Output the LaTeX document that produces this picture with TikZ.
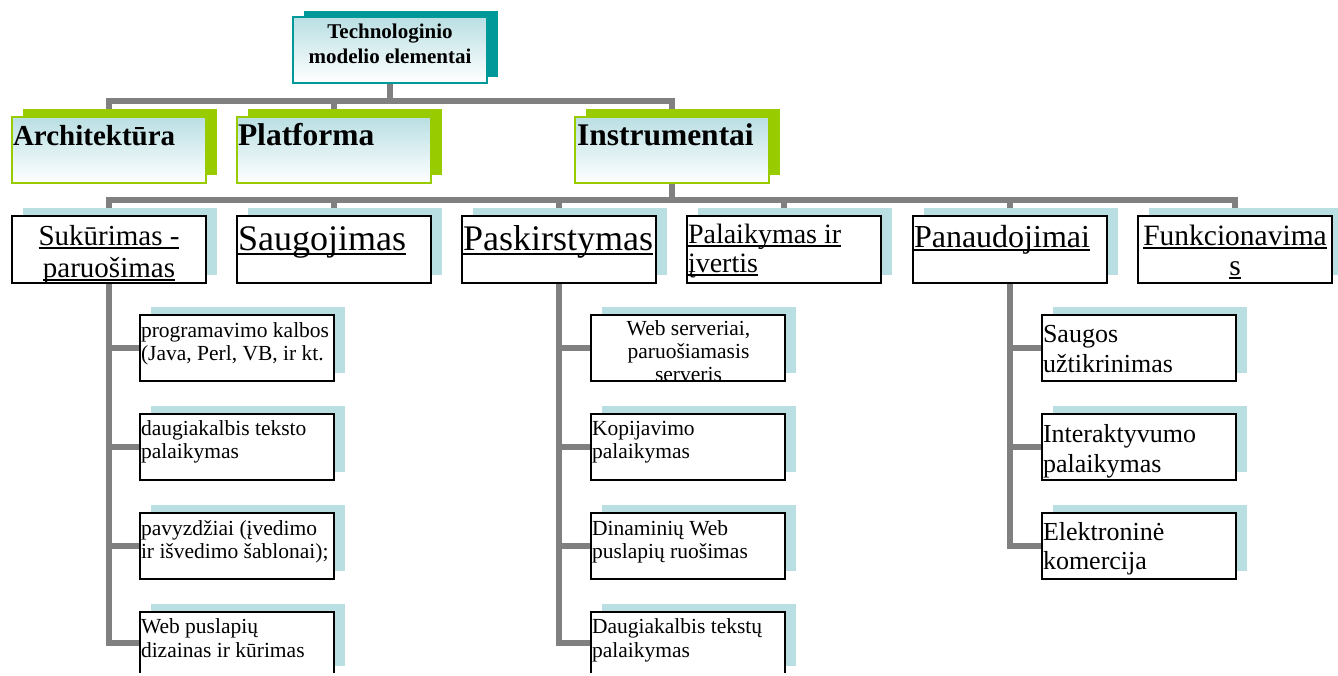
\documentclass[tikz,border=0pt]{standalone}
\usepackage{fontspec}
\setmainfont{Liberation Serif}
\usetikzlibrary{shadows}
\pgfdeclarelayer{background}
\pgfsetlayers{background,main}
\definecolor{lteal}{RGB}{185,223,227}
\definecolor{dteal}{RGB}{0,153,153}
\definecolor{lgreen}{RGB}{153,204,0}
\definecolor{conngray}{RGB}{128,128,128}
\newcommand{\ulx}[1]{\setbox0=\hbox{#1}\rlap{\rule[-0.13em]{\wd0}{0.06em}}\box0}
\newcommand{\fs}[2]{\fontsize{#1}{#2}\selectfont}
\tikzset{
  frontbox/.style={minimum width=194pt, minimum height=66pt, inner sep=0pt, outer sep=0pt, anchor=north west},
  topbox/.style={frontbox, draw=dteal, line width=1.5pt, top color=lteal, bottom color=white,
    general shadow={fill=dteal, shadow xshift=11pt, shadow yshift=6pt}},
  catbox/.style={frontbox, draw=lgreen, line width=1.5pt, top color=lteal, bottom color=white,
    general shadow={fill=lgreen, shadow xshift=11pt, shadow yshift=8pt}},
  subbox/.style={frontbox, draw=black, line width=1.6pt, fill=white, minimum height=67pt,
    general shadow={fill=lteal, shadow xshift=11pt, shadow yshift=8pt}},
  leafbox/.style={subbox, minimum height=66pt},
  conn/.style={draw=conngray, line width=5.5pt},
  txt/.style={inner sep=0pt, outer sep=0pt, anchor=base west},
  ctxt/.style={inner sep=0pt, outer sep=0pt, anchor=base},
  leaf/.style={txt, font=\fs{21.5}{23}},
  rleaf/.style={txt, font=\fs{26}{30}},
}
\begin{document}
\begin{tikzpicture}[x=1pt, y=-1pt]
\clip (0,0) rectangle (1338,675);

% root
\node[topbox] (root) at (293,17) {};
\node[ctxt, font=\bfseries\fs{21}{25}] (rootT1) at (390,38) {Technologinio};
\node[ctxt, font=\bfseries\fs{21}{25}] (rootT2) at (390,63) {modelio elementai};

% level 1
\node[catbox] (arch) at (12,117) {};
\node[catbox] (plat) at (237,117) {};
\node[catbox] (inst) at (575,117) {};
\node[txt, font=\bfseries\fs{29}{34}] (archT) at (13,145) {Architektūra};
\node[txt, font=\bfseries\fs{31.5}{36}] (platT) at (238,145) {Platforma};
\node[txt, font=\bfseries\fs{31.5}{36}] (instT) at (577,145) {Instrumentai};

% level 2
\node[subbox] (s1) at (12,216) {};
\node[subbox] (s2) at (237,216) {};
\node[subbox] (s3) at (462,216) {};
\node[subbox] (s4) at (687,216) {};
\node[subbox] (s5) at (913,216) {};
\node[subbox] (s6) at (1138,216) {};
\node[ctxt, font=\fs{29}{32}] (s1T1) at (109,245) {\ulx{Sukūrimas -}};
\node[ctxt, font=\fs{29}{32}] (s1T2) at (109,277) {\ulx{paruošimas}};
\node[txt, font=\fs{36}{40}] (s2T) at (238,250) {\ulx{Saugojimas}};
\node[txt, font=\fs{36}{40}] (s3T) at (463,250) {\ulx{Paskirstymas}};
\node[txt, font=\fs{28}{29}] (s4T1) at (688,243) {\ulx{Palaikymas ir}};
\node[txt, font=\fs{28}{29}] (s4T2) at (688,272) {\ulx{įvertis}};
\node[txt, font=\fs{32}{36}] (s5T) at (914,247) {\ulx{Panaudojimai}};
\node[ctxt, font=\fs{29.5}{30}] (s6T1) at (1235,245) {\ulx{Funkcionavima}};
\node[ctxt, font=\fs{29.5}{30}] (s6T2) at (1235,275) {\ulx{s}};

% level 3 - left
\node[leafbox] (a1) at (140,315) {};
\node[leafbox] (a2) at (140,414) {};
\node[leafbox] (a3) at (140,513) {};
\node[leafbox, minimum height=62pt] (a4) at (140,612) {};
\node[leaf] (a1T1) at (141,337) {programavimo kalbos};
\node[leaf] (a1T2) at (141,360) {(Java, Perl, VB, ir kt.};
\node[leaf] (a2T1) at (141,435) {daugiakalbis teksto};
\node[leaf] (a2T2) at (141,458) {palaikymas};
\node[leaf] (a3T1) at (141,535) {pavyzdžiai (įvedimo};
\node[leaf] (a3T2) at (141,558) {ir išvedimo šablonai);};
\node[leaf] (a4T1) at (141,633) {Web puslapių};
\node[leaf] (a4T2) at (141,657) {dizainas ir kūrimas};

% level 3 - middle
\node[leafbox] (b1) at (591,315) {};
\node[leafbox] (b2) at (591,414) {};
\node[leafbox] (b3) at (591,513) {};
\node[leafbox, minimum height=62pt] (b4) at (591,612) {};
\begin{scope}
\clip (b1.north west) rectangle (b1.south east);
\node[ctxt, font=\fs{21.5}{23}] (b1T1) at (688.5,335) {Web serveriai,};
\node[ctxt, font=\fs{21.5}{23}] (b1T2) at (688.5,358) {paruošiamasis};
\node[ctxt, font=\fs{21.5}{23}] (b1T3) at (688.5,381) {serveris};
\end{scope}
\node[leaf] (b2T1) at (592,435) {Kopijavimo};
\node[leaf] (b2T2) at (592,458) {palaikymas};
\node[leaf] (b3T1) at (592,535) {Dinaminių Web};
\node[leaf] (b3T2) at (592,558) {puslapių ruošimas};
\node[leaf] (b4T1) at (592,633) {Daugiakalbis tekstų};
\node[leaf] (b4T2) at (592,657) {palaikymas};

% level 3 - right
\node[leafbox] (c1) at (1042,315) {};
\node[leafbox] (c2) at (1042,414) {};
\node[leafbox] (c3) at (1042,513) {};
\node[rleaf] (c1T1) at (1043,342) {Saugos};
\node[rleaf] (c1T2) at (1043,372) {užtikrinimas};
\node[rleaf] (c2T1) at (1043,442) {Interaktyvumo};
\node[rleaf] (c2T2) at (1043,472) {palaikymas};
\node[rleaf] (c3T1) at (1043,540) {Elektroninė};
\node[rleaf] (c3T2) at (1043,569) {komercija};

% connectors
\begin{pgfonlayer}{background}
\draw[conn] (root.south) -- ++(0,18) -| (arch.north);
\draw[conn] (root.south) -- ++(0,18) -| (plat.north);
\draw[conn] (root.south) -- ++(0,18) -| (inst.north);
\foreach \s in {s1,s2,s3,s4,s5,s6}{
  \draw[conn] (inst.south) -- ++(0,17) -| (\s.north);
}
\foreach \c in {a1,a2,a3,a4}{ \draw[conn] (s1.south) |- (\c.west); }
\foreach \c in {b1,b2,b3,b4}{ \draw[conn] (s3.south) |- (\c.west); }
\foreach \c in {c1,c2,c3}{ \draw[conn] (s5.south) |- (\c.west); }
\end{pgfonlayer}
% hide the bottom edge of the last boxes, which the reference cuts off
\fill[white] (a4.south west) ++(-2,-1) rectangle ++(210,10);
\fill[white] (b4.south west) ++(-2,-1) rectangle ++(210,10);
\end{tikzpicture}
\end{document}
